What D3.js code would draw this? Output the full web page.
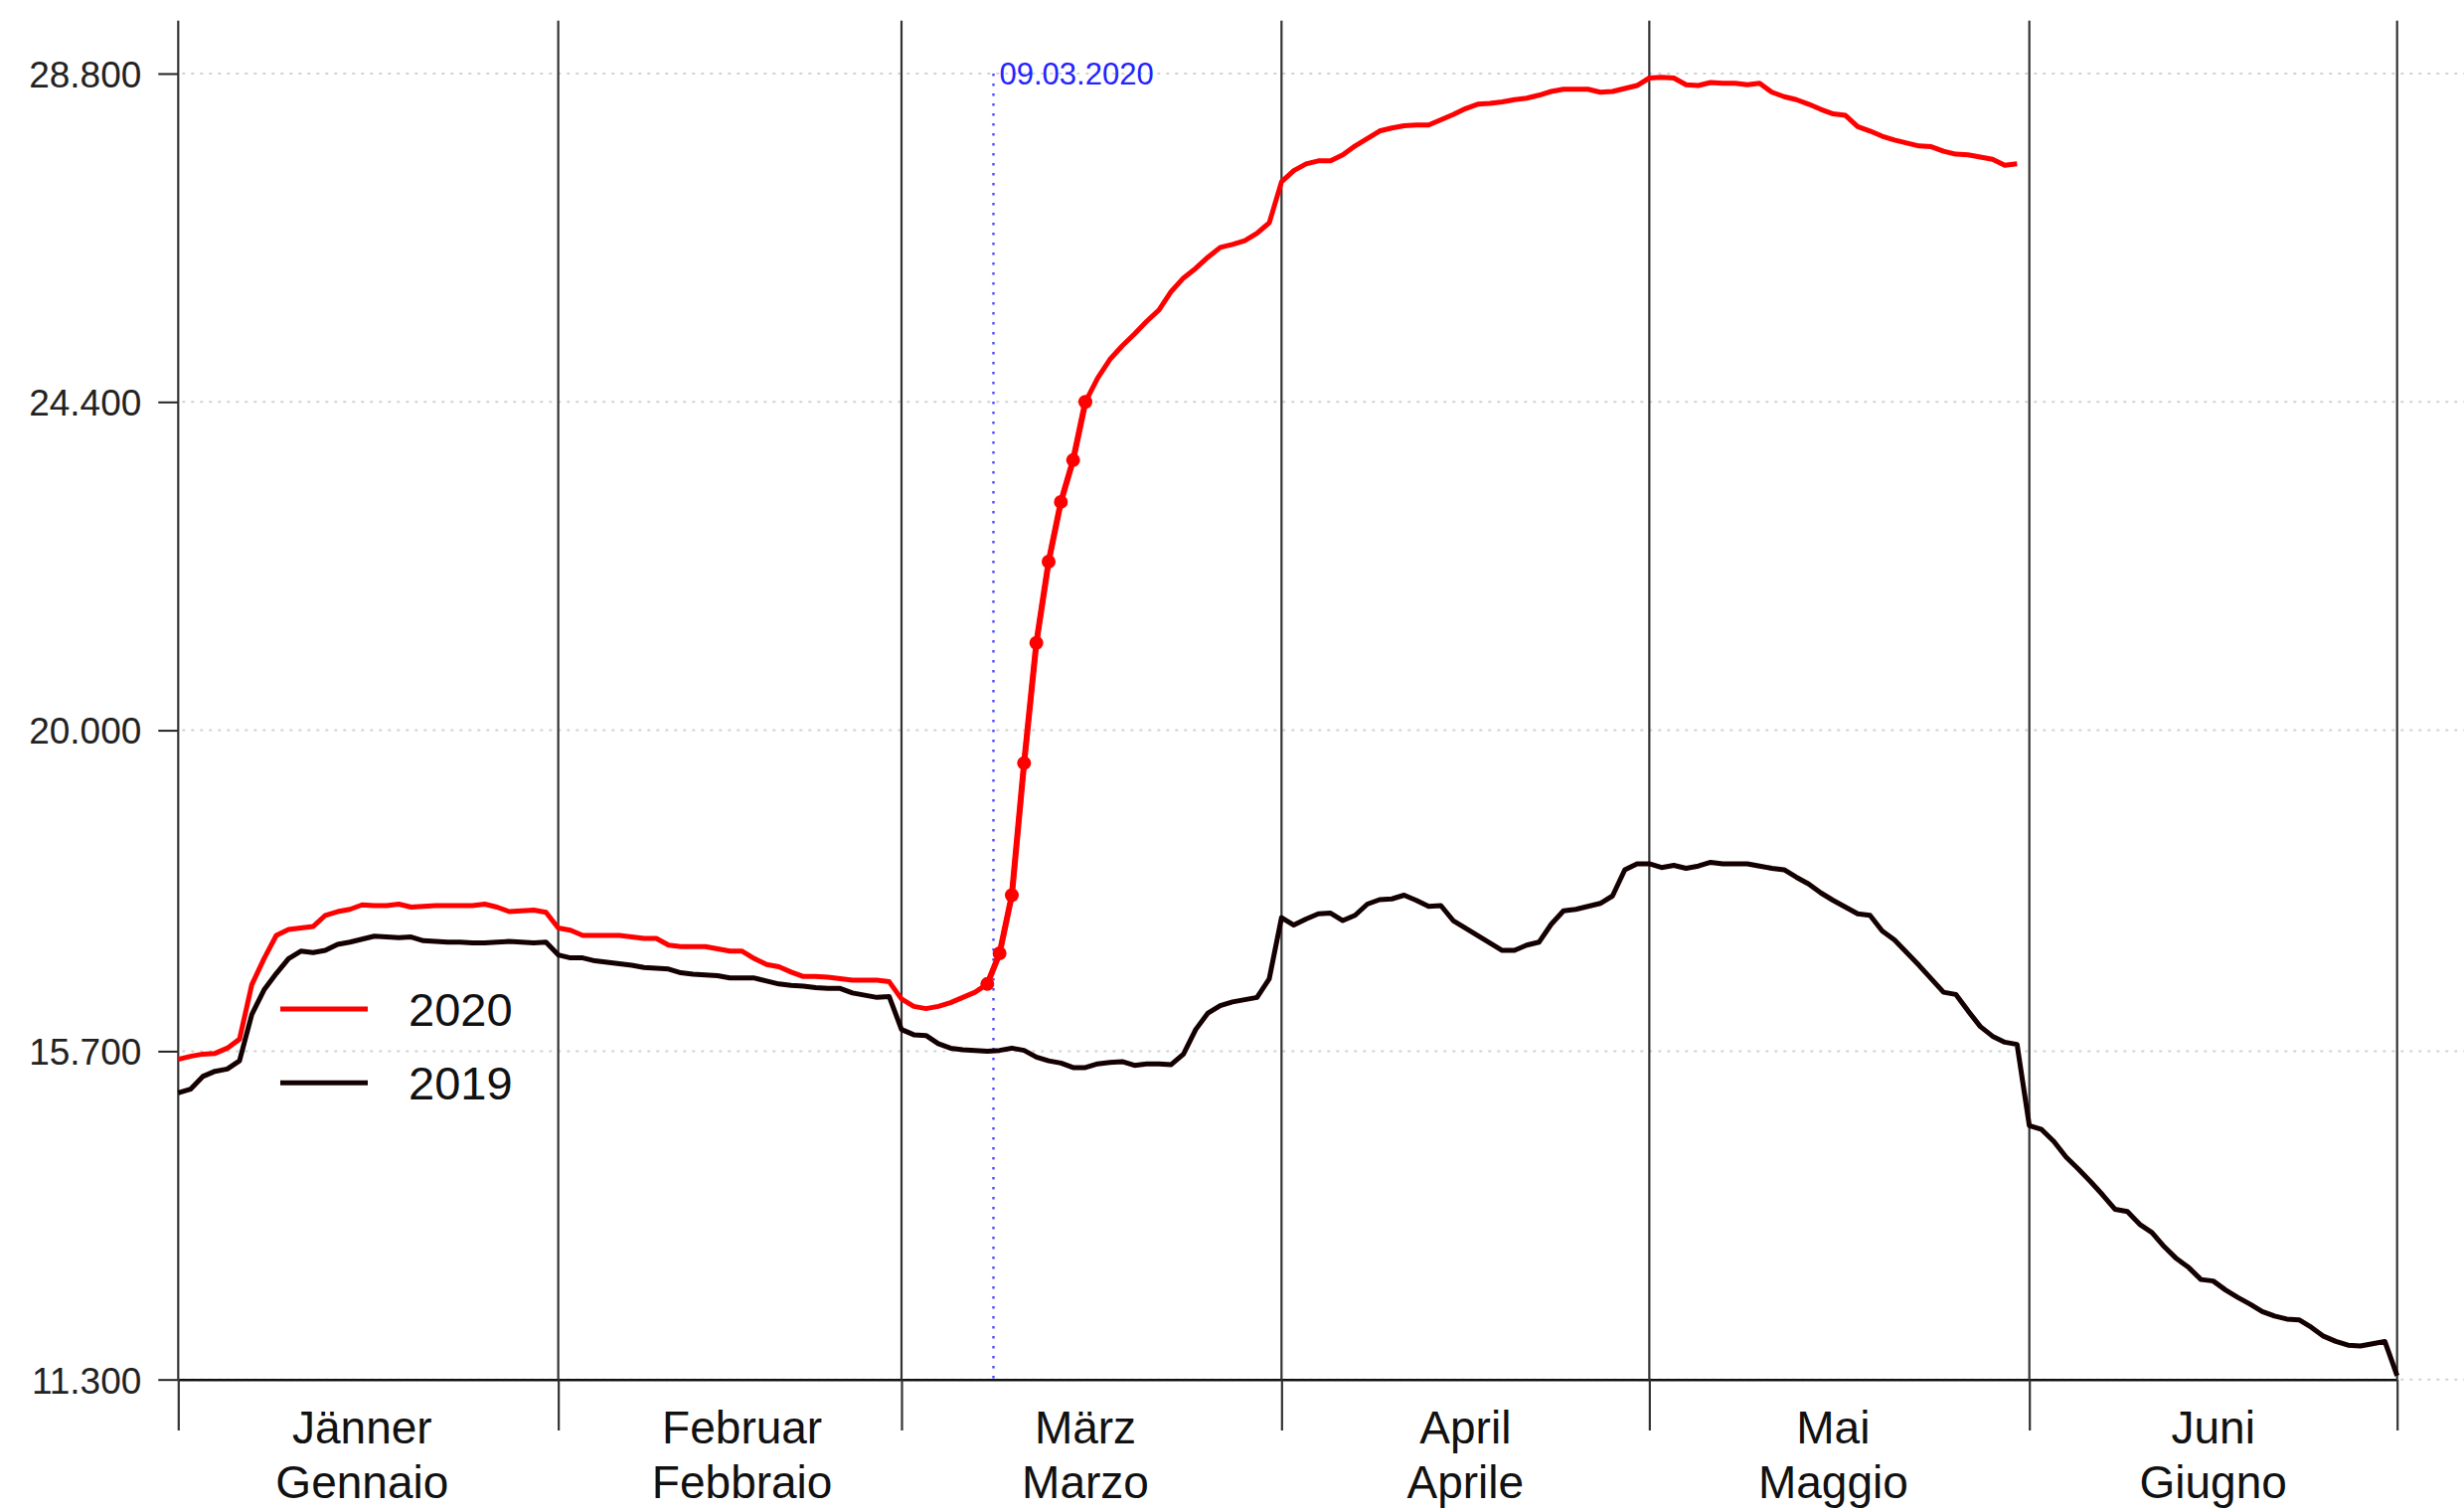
<!DOCTYPE html>
<html>
<head>
<meta charset="utf-8">
<script src="https://cdn.jsdelivr.net/npm/d3@7"></script>
<style>
  body { margin: 0; background: #fff; }
  svg { display: block; font-family: "Liberation Sans", Arial, Helvetica, sans-serif; }
</style>
</head>
<body>
<svg id="chart"></svg>
<script>
// months (German / Italian) and the day index (0 = 1 Jan) where each one starts
const MONTHS_DE = ["Jänner", "Februar", "März", "April", "Mai", "Juni"];
const MONTHS_IT = ["Gennaio", "Febbraio", "Marzo", "Aprile", "Maggio", "Giugno"];
const MONTH_STARTS = [0, 31, 59, 90, 120, 151, 181];

const Y_TICKS = [11.3, 15.7, 20.0, 24.4, 28.8];
const Y_TICK_LABELS = ["11.300", "15.700", "20.000", "24.400", "28.800"];

// daily values, one per day from 1 Jan
const VALUES_2019 = [
  15.14, 15.19, 15.36, 15.43, 15.46, 15.57, 16.19, 16.52, 16.74, 16.94,
  17.04, 17.02, 17.05, 17.13, 17.16, 17.20, 17.24, 17.23, 17.22, 17.23,
  17.18, 17.17, 17.16, 17.16, 17.15, 17.15, 17.16, 17.17, 17.16, 17.15,
  17.16, 16.99, 16.95, 16.95, 16.91, 16.89, 16.87, 16.85, 16.82, 16.81,
  16.80, 16.75, 16.73, 16.72, 16.71, 16.68, 16.68, 16.68, 16.64, 16.60,
  16.58, 16.57, 16.55, 16.54, 16.54, 16.48, 16.45, 16.42, 16.43, 15.99,
  15.92, 15.91, 15.80, 15.74, 15.72, 15.71, 15.70, 15.71, 15.74, 15.71,
  15.62, 15.57, 15.54, 15.48, 15.48, 15.53, 15.55, 15.56, 15.51, 15.53,
  15.53, 15.52, 15.66, 15.99, 16.21, 16.31, 16.36, 16.39, 16.42, 16.67,
  17.49, 17.39, 17.47, 17.54, 17.55, 17.45, 17.52, 17.67, 17.73, 17.74,
  17.79, 17.72, 17.64, 17.65, 17.45, 17.35, 17.25, 17.15, 17.05, 17.05,
  17.12, 17.16, 17.40, 17.58, 17.60, 17.64, 17.68, 17.78, 18.13, 18.21,
  18.21, 18.16, 18.19, 18.15, 18.18, 18.23, 18.21, 18.21, 18.21, 18.18,
  18.15, 18.13, 18.03, 17.94, 17.82, 17.72, 17.63, 17.54, 17.52, 17.31,
  17.19, 17.02, 16.85, 16.67, 16.49, 16.46, 16.24, 16.03, 15.90, 15.82,
  15.79, 14.70, 14.65, 14.49, 14.28, 14.12, 13.95, 13.77, 13.58, 13.55,
  13.38, 13.27, 13.08, 12.92, 12.80, 12.64, 12.62, 12.50, 12.40, 12.31,
  12.21, 12.15, 12.11, 12.10, 12.00, 11.88, 11.81, 11.76, 11.75, 11.78,
  11.81, 11.35
];

const VALUES_2020 = [
  15.59, 15.63, 15.66, 15.67, 15.74, 15.86, 16.59, 16.94, 17.25, 17.33,
  17.35, 17.37, 17.52, 17.57, 17.60, 17.66, 17.65, 17.65, 17.67, 17.63,
  17.64, 17.65, 17.65, 17.65, 17.65, 17.67, 17.63, 17.57, 17.58, 17.59,
  17.56, 17.35, 17.32, 17.25, 17.25, 17.25, 17.25, 17.23, 17.21, 17.21,
  17.12, 17.10, 17.10, 17.10, 17.07, 17.04, 17.04, 16.94, 16.86, 16.83,
  16.76, 16.70, 16.70, 16.69, 16.67, 16.65, 16.65, 16.65, 16.63, 16.40,
  16.30, 16.27, 16.30, 16.35, 16.42, 16.49, 16.60, 17.01, 17.79, 19.56,
  21.17, 22.26, 23.06, 23.62, 24.40, 24.72, 24.97, 25.15, 25.31, 25.48,
  25.63, 25.88, 26.06, 26.19, 26.34, 26.47, 26.51, 26.56, 26.66, 26.80,
  27.35, 27.50, 27.59, 27.63, 27.63, 27.71, 27.83, 27.93, 28.03, 28.07,
  28.10, 28.11, 28.11, 28.18, 28.25, 28.33, 28.39, 28.40, 28.42, 28.45,
  28.47, 28.51, 28.56, 28.59, 28.59, 28.59, 28.55, 28.56, 28.60, 28.64,
  28.74, 28.75, 28.74, 28.65, 28.64, 28.68, 28.67, 28.67, 28.65, 28.67,
  28.55, 28.49, 28.45, 28.39, 28.32, 28.26, 28.24, 28.09, 28.03, 27.96,
  27.91, 27.87, 27.83, 27.82, 27.76, 27.72, 27.71, 27.68, 27.65, 27.57,
  27.59
];

// days of 2020 drawn with a dot
const MARKED_DAYS = [66, 67, 68, 69, 70, 71, 72, 73, 74];

const MARKER_DAY = 66.5;
const MARKER_LABEL = "09.03.2020";

const LEGEND_LABELS = ["2020", "2019"];
const LEGEND_COLORS = ["#ff0000", "#140000"];

const WIDTH = 2479;
const HEIGHT = 1521;
const PLOT = {left: 179.3, right: 2411.7, top: 74, bottom: 1387.7};
const LINE_TOP = 20.7;
const TICK_BOTTOM = 1439;
const LINE_W = 5;

const svg = d3.select("#chart")
    .attr("width", WIDTH)
    .attr("height", HEIGHT);

const x = d3.scaleLinear().domain([0, 181]).range([PLOT.left, PLOT.right]);
const y = d3.scaleLinear().domain([11.3, 28.8]).range([PLOT.bottom, PLOT.top]);

// dotted horizontal grid
svg.append("g")
  .selectAll("line")
  .data(Y_TICKS)
  .join("line")
    .attr("x1", x(0) + 4)
    .attr("x2", WIDTH)
    .attr("y1", d => y(d))
    .attr("y2", d => y(d))
    .attr("stroke", "#d2d2d2")
    .attr("stroke-width", 2)
    .attr("stroke-dasharray", "3,6");

// y axis
const yAxis = svg.append("g")
    .attr("transform", `translate(${x(0)},0)`)
    .call(d3.axisLeft(y)
      .tickValues(Y_TICKS)
      .tickFormat((d, i) => Y_TICK_LABELS[i])
      .tickSize(20)
      .tickPadding(17));
yAxis.select(".domain").remove();
yAxis.selectAll(".tick line").attr("stroke", "#222").attr("stroke-width", 2);
yAxis.selectAll(".tick text")
    .attr("font-size", 37)
    .attr("font-family", "Liberation Sans, Arial, sans-serif")
    .attr("fill", "#222")
    .attr("dy", "0.36em");

// x axis: solid base line with month ticks below
const xAxis = svg.append("g")
    .attr("transform", `translate(0,${y(11.3)})`)
    .call(d3.axisBottom(x)
      .tickValues(MONTH_STARTS)
      .tickFormat("")
      .tickSize(TICK_BOTTOM - PLOT.bottom)
      .tickSizeOuter(0));
xAxis.select(".domain").attr("stroke", "#111").attr("stroke-width", 2.6);
xAxis.selectAll(".tick line").attr("stroke", "#333").attr("stroke-width", 2.2);

// month separators
svg.append("g")
  .selectAll("line")
  .data(MONTH_STARTS)
  .join("line")
    .attr("x1", d => x(d))
    .attr("x2", d => x(d))
    .attr("y1", LINE_TOP)
    .attr("y2", y(11.3))
    .attr("stroke", "#333")
    .attr("stroke-width", 2.2);

// month names
const monthLabels = svg.append("g")
  .selectAll("g")
  .data(MONTHS_DE)
  .join("g")
    .attr("transform", (d, i) => `translate(${x(MONTH_STARTS[i] + 15)},0)`)
    .attr("font-size", 46)
    .attr("fill", "#111")
    .attr("text-anchor", "middle");
monthLabels.append("text").attr("y", 1452).text(d => d);
monthLabels.append("text").attr("y", 1507).text((d, i) => MONTHS_IT[i]);

// 09.03.2020 marker
svg.append("line")
    .attr("x1", x(MARKER_DAY))
    .attr("x2", x(MARKER_DAY))
    .attr("y1", y(28.8))
    .attr("y2", y(11.3))
    .attr("stroke", "#4b4bff")
    .attr("stroke-width", 2.4)
    .attr("stroke-dasharray", "2.5,7.5");
svg.append("text")
    .attr("x", x(MARKER_DAY) + 6)
    .attr("y", y(28.8) + 11)
    .attr("font-size", 31)
    .attr("fill", "#2323ff")
    .text(MARKER_LABEL);

const line = d3.line()
    .x((d, i) => x(i))
    .y(d => y(d));

svg.append("path")
    .datum(VALUES_2019)
    .attr("d", line)
    .attr("fill", "none")
    .attr("stroke", LEGEND_COLORS[1])
    .attr("stroke-width", LINE_W)
    .attr("stroke-linejoin", "round");

svg.append("path")
    .datum(VALUES_2020)
    .attr("d", line)
    .attr("fill", "none")
    .attr("stroke", LEGEND_COLORS[0])
    .attr("stroke-width", LINE_W)
    .attr("stroke-linejoin", "round");

// thicker segment and dots on the marked days
svg.append("path")
    .datum(MARKED_DAYS)
    .attr("d", d3.line().x(d => x(d)).y(d => y(VALUES_2020[d])))
    .attr("fill", "none")
    .attr("stroke", LEGEND_COLORS[0])
    .attr("stroke-width", 6);

svg.append("g")
  .selectAll("circle")
  .data(MARKED_DAYS)
  .join("circle")
    .attr("cx", d => x(d))
    .attr("cy", d => y(VALUES_2020[d]))
    .attr("r", 7)
    .attr("fill", LEGEND_COLORS[0]);

// legend
const legend = svg.append("g")
  .selectAll("g")
  .data(LEGEND_LABELS)
  .join("g")
    .attr("transform", (d, i) => `translate(282,${1015 + i * 74.3})`);
legend.append("line")
    .attr("x1", 0)
    .attr("x2", 88)
    .attr("stroke", (d, i) => LEGEND_COLORS[i])
    .attr("stroke-width", LINE_W);
legend.append("text")
    .attr("x", 129)
    .attr("dy", "0.36em")
    .attr("font-size", 47)
    .attr("fill", "#111")
    .text(d => d);
</script>
</body>
</html>
